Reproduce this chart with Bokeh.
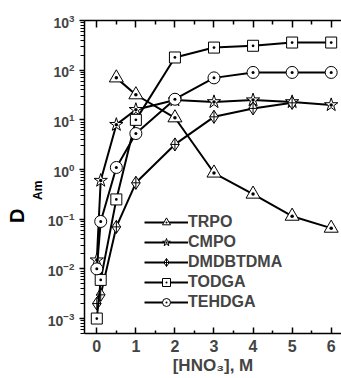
import numpy as np
from bokeh.plotting import figure
from bokeh.models import (FixedTicker, LinearAxis, Legend, LegendItem, Range1d)
from bokeh.embed import file_html
from bokeh.resources import INLINE

# ---- data ----
x_trpo = [0.5, 1, 2, 3, 4, 5, 6]
trpo = [70, 32, 11, 0.85, 0.32, 0.115, 0.066]

x_cmpo = [0, 0.1, 0.5, 1, 2, 3, 4, 5, 6]
cmpo = [0.015, 0.6, 8, 16, 25, 23, 25, 23, 20]

x_dmd = [0, 0.1, 0.5, 1, 2, 3, 4, 5]
dmd = [0.002, 0.003, 0.07, 0.54, 3.2, 11.5, 17, 22]

x_todga = [0, 0.1, 0.5, 1, 2, 3, 4, 5, 6]
todga = [0.001, 0.006, 0.25, 10, 180, 285, 310, 360, 360]

x_tehdga = [0, 0.1, 0.5, 1, 2, 3, 4, 5, 6]
tehdga = [0.01, 0.09, 1.1, 5.3, 26, 70, 90, 90, 90]

names = ["TRPO", "CMPO", "DMDBTDMA", "TODGA", "TEHDGA"]
x_ticks = [0, 1, 2, 3, 4, 5, 6]
y_ticks = [1e-3, 1e-2, 1e-1, 1e0, 1e1, 1e2, 1e3]

# ---- figure ----
FONT = "Liberation Sans"
NB = "\u00a0"
Y0, Y1 = 5e-4, 1000.0
X0, X1 = -0.315, 6.264
p = figure(width=341, height=378, output_backend="svg", toolbar_location=None,
           y_axis_type="log", x_range=Range1d(X0, X1), y_range=Range1d(Y0, Y1),
           min_border_left=84, min_border_right=0, min_border_top=20, min_border_bottom=45)
p.outline_line_color = None
p.grid.visible = False
p.background_fill_color = "white"

series = [
    (x_trpo, trpo, "triangle_dot", 14),
    (x_cmpo, cmpo, "star_dot", 14),
    (x_dmd, dmd, "diamond_cross", 13),
    (x_todga, todga, "square_dot", 11),
    (x_tehdga, tehdga, "circle_dot", 12),
]
items = []
for (xs, ys, mk, sz), nm in zip(series, names):
    l = p.line(xs, ys, line_color="black", line_width=2)
    s = p.scatter(xs, ys, marker=mk, size=sz, fill_color="white",
                  line_color="black", line_width=1)
    items.append(LegendItem(label=nm, renderers=[l, s]))

leg = Legend(items=items, location=(60, 21), padding=0, margin=0, spacing=0,
             glyph_width=44, glyph_height=20, label_height=20, label_standoff=0,
             border_line_color=None, background_fill_alpha=0,
             label_text_font=FONT, label_text_font_style="bold",
             label_text_font_size="16px")
p.add_layout(leg)

# x axes
xt = FixedTicker(ticks=x_ticks, minor_ticks=[k + 0.5 for k in range(6)])
for ax in p.xaxis:
    ax.ticker = xt
    ax.major_tick_in = 6
    ax.major_tick_out = 0
    ax.minor_tick_in = 3
    ax.minor_tick_out = 0
    ax.axis_line_width = 1.5
    ax.major_tick_line_width = 1.5
    ax.minor_tick_line_width = 1.5
    ax.major_label_text_font = FONT
    ax.major_label_text_font_style = "bold"
    ax.major_label_text_font_size = "16px"
    ax.major_label_standoff = 6
    ax.axis_label = "[HNO\u2083], M"
    ax.axis_label_text_font = FONT
    ax.axis_label_text_font_style = "bold"
    ax.axis_label_text_font_size = "17px"
    ax.axis_label_standoff = 1

top = LinearAxis(ticker=xt, major_tick_in=7, major_tick_out=0, minor_tick_in=4,
                 minor_tick_out=0, axis_line_width=1.5, major_tick_line_width=1.5,
                 minor_tick_line_width=1.5, major_label_standoff=0,
                 major_label_overrides={t: "" for t in x_ticks})
p.add_layout(top, "above")

minor_y = [k * 10.0 ** n for n in range(-4, 3) for k in range(2, 10)]
yt = FixedTicker(ticks=y_ticks, minor_ticks=minor_y)
yax = p.yaxis[0]
yax.ticker = yt
yax.major_tick_in = 0
yax.major_tick_out = 5
yax.minor_tick_in = 0
yax.minor_tick_out = 4
yax.axis_line_width = 1.5
yax.major_tick_line_width = 1.5
yax.minor_tick_line_width = 1.2
yax.major_label_text_font = FONT
yax.major_label_text_font_style = "bold"
yax.major_label_text_font_size = "14px"
yax.major_label_standoff = 5
# subscript part of D_Am (padded so it sits above the centre like the reference)
yax.axis_label = "Am" + NB * 8
yax.axis_label_text_font = FONT
yax.axis_label_text_font_style = "bold"
yax.axis_label_text_font_size = "12px"
yax.axis_label_text_color = "black"
yax.axis_label_standoff = 0

# outer axis carrying only the big "D"
d_axis = LinearAxis(ticker=FixedTicker(ticks=[]), axis_line_color=None,
                    major_tick_line_color=None, minor_tick_line_color=None,
                    major_tick_out=0, minor_tick_out=0, major_label_standoff=0,
                    axis_label="D" + NB * 14, axis_label_standoff=0,
                    axis_label_text_font=FONT, axis_label_text_font_style="bold",
                    axis_label_text_font_size="20px", axis_label_text_color="black")
p.left = [yax, d_axis]

open("out.html", "w").write(file_html(p, INLINE))
